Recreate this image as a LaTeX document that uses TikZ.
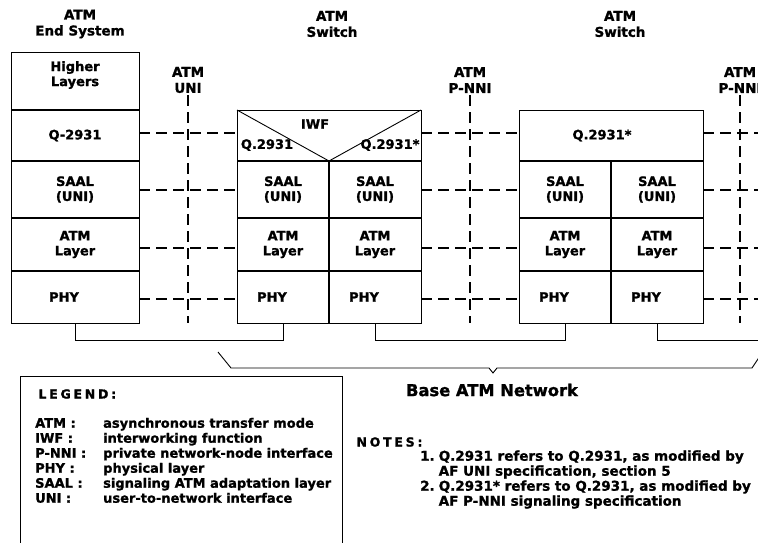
\documentclass[tikz,border=0pt]{standalone}
\usepackage{fontspec}
\setmainfont{DejaVu Sans}[BoldFeatures={FakeBold=1.2}]
\newfontfamily\spacedfont{DejaVu Sans}[LetterSpace=22, BoldFeatures={FakeBold=1.2}]
\usetikzlibrary{positioning}
\newcommand\cellfont{\fontsize{13}{15}\selectfont\bfseries}
\tikzset{
  cell/.style={inner sep=0pt, outer sep=0pt, align=center, font=\cellfont},
  wide/.style={minimum width=128pt},
  half/.style={minimum width=92pt},
  full/.style={minimum width=184pt},
  hlrow/.style={minimum height=58pt},
  qrow/.style={minimum height=51pt},
  saalrow/.style={minimum height=57pt},
  atmrow/.style={minimum height=53pt},
  phyrow/.style={minimum height=52pt},
  phytext/.style={font=\cellfont, xshift=-11pt},
  celltext/.style={font=\cellfont, inner sep=0pt, align=center},
  head/.style={font=\fontsize{13.5}{16}\selectfont\bfseries, align=center, inner sep=2pt},
  frame/.style={line width=0.9pt},
  divider/.style={line width=1.8pt},
  dashline/.style={line width=2pt, dash pattern=on 11pt off 6pt},
  link/.style={line width=0.9pt}
}

\begin{document}
\begin{tikzpicture}[x=1pt, y=-1pt]
  \useasboundingbox (0,0) rectangle (758,542);
  \coordinate (edge) at (762,0);
  \coordinate (floor) at (0,323);

  \node[head] (es-title) at (80,24) {ATM\\End System};
  \node[head] (sw1-title) at (332,24) {ATM\\Switch};
  \node[head] (sw2-title) at (620,24) {ATM\\Switch};
  \node[head] (uni) at (188,80) {ATM\\UNI};
  \node[head] (pnni) at (470,80) {ATM\\P-NNI};
  \node[head] (pnni2) at (740,80) {ATM\\P-NNI};

  % end system
  \node[cell, wide, hlrow, label={[celltext, yshift=6pt]center:Higher\\Layers}] (es-hl) at (75,81) {};
  \node[cell, wide, qrow, below=0pt of es-hl] (es-q) {Q-2931};
  \node[cell, wide, saalrow, below=0pt of es-q] (es-saal) {SAAL\\(UNI)};
  \node[cell, wide, atmrow, below=0pt of es-saal] (es-atm) {ATM\\Layer};
  \node[cell, wide, phyrow, below=0pt of es-atm, label={[phytext]center:PHY}] (es-phy) {};
  \draw[frame] (es-hl.north west) rectangle (es-phy.south east);
  \draw[divider] (es-q.north west) -- (es-q.north east);
  \draw[divider] (es-saal.north west) -- (es-saal.north east);
  \draw[divider] (es-atm.north west) -- (es-atm.north east);
  \draw[divider] (es-phy.north west) -- (es-phy.north east);

  % switch with IWF
  \node[cell, full, qrow] (s1-top) at (329,135.5) {};
  \node[cell, half, saalrow, below right=0pt of s1-top.south west] (s1-saal-l) {SAAL\\(UNI)};
  \node[cell, half, saalrow, right=0pt of s1-saal-l] (s1-saal-r) {SAAL\\(UNI)};
  \node[cell, half, atmrow, below=0pt of s1-saal-l] (s1-atm-l) {ATM\\Layer};
  \node[cell, half, atmrow, right=0pt of s1-atm-l] (s1-atm-r) {ATM\\Layer};
  \node[cell, half, phyrow, below=0pt of s1-atm-l, label={[phytext]center:PHY}] (s1-phy-l) {};
  \node[cell, half, phyrow, right=0pt of s1-phy-l, label={[phytext]center:PHY}] (s1-phy-r) {};
  \draw[frame] (s1-top.north west) rectangle (s1-phy-r.south east);
  \draw[frame] (s1-top.north west) -- (s1-top.south) -- (s1-top.north east);
  \draw[divider] (s1-saal-l.north west) -- (s1-saal-r.north east);
  \draw[divider] (s1-atm-l.north west) -- (s1-atm-r.north east);
  \draw[divider] (s1-phy-l.north west) -- (s1-phy-r.north east);
  \draw[divider] (s1-saal-l.north east) -- (s1-phy-l.south east);
  \node[celltext] (s1-iwf) at ([shift={(-14,-11.5)}]s1-top.center) {IWF};
  \node[celltext] (s1-q-l) at ([shift={(-62,9.5)}]s1-top.center) {Q.2931};
  \node[celltext] (s1-q-r) at ([shift={(61,9.5)}]s1-top.center) {Q.2931*};

  % second switch
  \node[cell, full, qrow, label={[celltext, xshift=-9pt]center:Q.2931*}] (s2-top) at (611,135.5) {};
  \node[cell, half, saalrow, below right=0pt of s2-top.south west] (s2-saal-l) {SAAL\\(UNI)};
  \node[cell, half, saalrow, right=0pt of s2-saal-l] (s2-saal-r) {SAAL\\(UNI)};
  \node[cell, half, atmrow, below=0pt of s2-saal-l] (s2-atm-l) {ATM\\Layer};
  \node[cell, half, atmrow, right=0pt of s2-atm-l] (s2-atm-r) {ATM\\Layer};
  \node[cell, half, phyrow, below=0pt of s2-atm-l, label={[phytext]center:PHY}] (s2-phy-l) {};
  \node[cell, half, phyrow, right=0pt of s2-phy-l, label={[phytext]center:PHY}] (s2-phy-r) {};
  \draw[frame] (s2-top.north west) rectangle (s2-phy-r.south east);
  \draw[divider] (s2-saal-l.north west) -- (s2-saal-r.north east);
  \draw[divider] (s2-atm-l.north west) -- (s2-atm-r.north east);
  \draw[divider] (s2-phy-l.north west) -- (s2-phy-r.north east);
  \draw[divider] (s2-saal-l.north east) -- (s2-phy-l.south east);

  % interfaces
  \draw[dashline] (uni.south) -- (uni.south |- floor);
  \draw[dashline] (pnni.south) -- (pnni.south |- floor);
  \draw[dashline] (pnni2.south) -- (pnni2.south |- floor);

  \draw[dashline] ([yshift=2.5pt]es-q.east) -- ([yshift=2.5pt]s1-top.west);
  \draw[dashline] ([yshift=-0.5pt]es-saal.east) -- ([yshift=-0.5pt]s1-saal-l.west);
  \draw[dashline] ([yshift=-3.5pt]es-atm.east) -- ([yshift=-3.5pt]s1-atm-l.west);
  \draw[dashline] ([yshift=-2pt]es-phy.east) -- ([yshift=-2pt]s1-phy-l.west);
  \draw[dashline] ([yshift=2.5pt]s1-top.east) -- ([yshift=2.5pt]s2-top.west);
  \draw[dashline] ([yshift=-0.5pt]s1-saal-r.east) -- ([yshift=-0.5pt]s2-saal-l.west);
  \draw[dashline] ([yshift=-3.5pt]s1-atm-r.east) -- ([yshift=-3.5pt]s2-atm-l.west);
  \draw[dashline] ([yshift=-2pt]s1-phy-r.east) -- ([yshift=-2pt]s2-phy-l.west);
  \draw[dashline] ([yshift=2.5pt]s2-top.east) -- ([yshift=2.5pt]s2-top.east -| edge);
  \draw[dashline] ([yshift=-0.5pt]s2-saal-r.east) -- ([yshift=-0.5pt]s2-saal-r.east -| edge);
  \draw[dashline] ([yshift=-3.5pt]s2-atm-r.east) -- ([yshift=-3.5pt]s2-atm-r.east -| edge);
  \draw[dashline] ([yshift=-2pt]s2-phy-r.east) -- ([yshift=-2pt]s2-phy-r.east -| edge);

  % physical links
  \draw[link] (es-phy.south) -- ++(0,17) -| (s1-phy-l.south);
  \draw[link] (s1-phy-r.south) -- ++(0,17) -| (s2-phy-l.south);
  \draw[link] (s2-phy-r.south) |- ([yshift=-17pt]s2-phy-r.south -| edge);

  \node[font=\fontsize{16.3}{18}\selectfont\bfseries] (net) at (492,390) {Base ATM Network};
  \draw[link] (218,352) -- (231,368) -- (489,368) -- (493,373) -- (497,368) -- (752,368) -- (760,356);

  % legend
  \draw[frame] (20,545) |- (342,376) -- (342,545);
  \node[anchor=west, font=\fontsize{12.5}{15}\spacedfont\bfseries] (legend-title) at (35,394) {LEGEND:};
  \node[anchor=north west, inner sep=0pt, font=\fontsize{13}{15}\selectfont\bfseries] (legend-body) at (35,417)
    {\begin{tabular}{@{}p{68pt}@{}l@{}}
      ATM : & asynchronous transfer mode\\
      IWF : & interworking function\\
      P-NNI : & private network-node interface\\
      PHY : & physical layer\\
      SAAL : & signaling ATM adaptation layer\\
      UNI : & user-to-network interface
    \end{tabular}};

  % notes
  \node[anchor=west, font=\fontsize{12.5}{15}\spacedfont\bfseries] (notes-title) at (353,442) {NOTES:};
  \node[anchor=north west, inner sep=0pt, font=\fontsize{13.5}{15}\selectfont\bfseries] (notes-body) at (420,450)
    {\begin{tabular}{@{}l@{\hspace{4pt}}l@{}}
      1. & Q.2931 refers to Q.2931, as modified by\\
         & AF UNI specification, section 5\\
      2. & Q.2931* refers to Q.2931, as modified by\\
         & AF P-NNI signaling specification
    \end{tabular}};
\end{tikzpicture}
\end{document}
